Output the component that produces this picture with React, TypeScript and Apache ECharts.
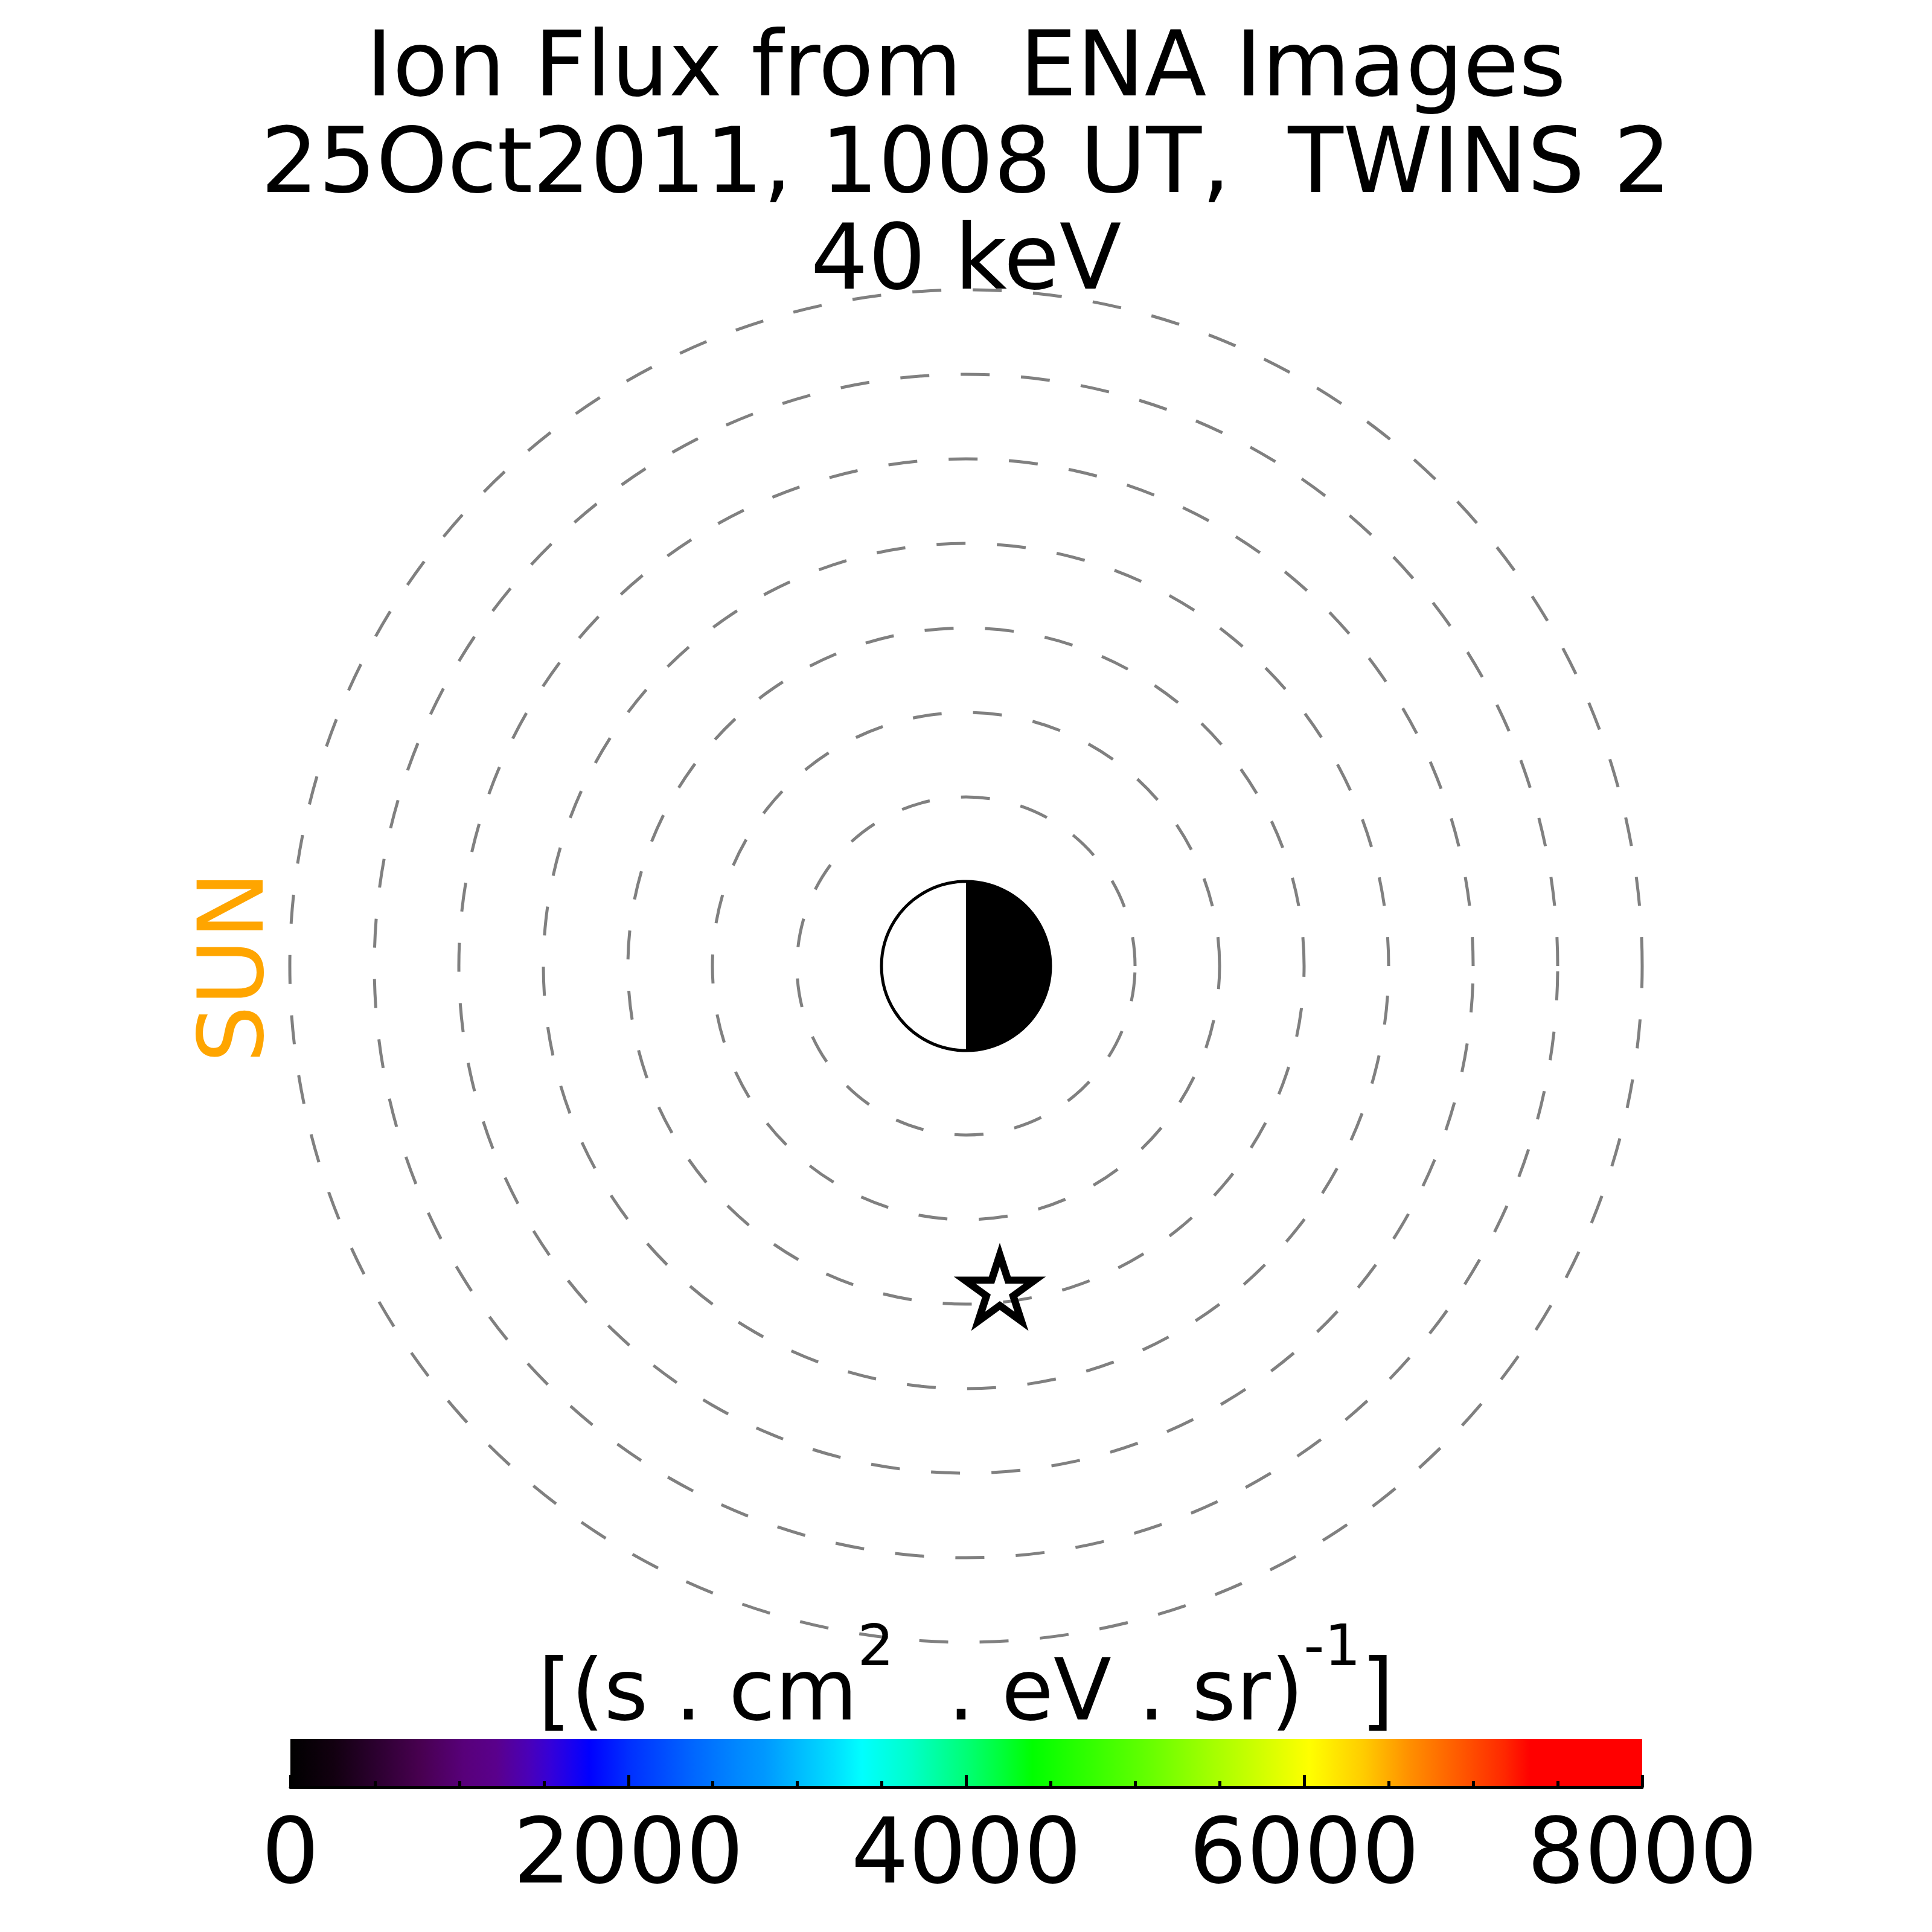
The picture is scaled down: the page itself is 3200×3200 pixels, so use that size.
import React, { useEffect, useRef } from "react";
import * as echarts from "echarts";

// ---------- data ----------
const titleLines = ["Ion Flux from  ENA Images", "25Oct2011, 1008 UT,  TWINS 2", "40 keV"];
const ringRadii = [2, 3, 4, 5, 6, 7, 8]; // Earth radii
const earthRadius = [1];
const satellitePosition = [[0.4, -3.81]];
const sunLabel = "SUN";
const colorbarMin = 0;
const colorbarMax = 8000;
const colorbarInterval = 2000;
const colorbarLabelParts = ["[(s . cm", "2", "  . eV . sr)", "-1", "]"];
const cmapValues = [0, 256, 513, 769, 1026, 1218, 1410, 1538, 1667, 1769, 2010, 2395, 2651, 2805, 3036, 3228, 3382, 3677, 4020, 4212, 4392, 4661, 5046, 5430, 5687, 6030, 6350, 6620, 6927, 7184, 7338, 8000];
const cmapColors = ["#000000", "#120010", "#2c0030", "#480050", "#58007a", "#5a008c", "#4a00b8", "#3500d8", "#1800f0", "#0000ff", "#0030ff", "#0068ff", "#0088ff", "#0098ff", "#00c0ff", "#00e0ff", "#00ffff", "#00ffc8", "#00ff70", "#00ff38", "#00ff00", "#28ff00", "#60ff00", "#a0ff00", "#c8ff00", "#ffff00", "#ffcc00", "#ff9000", "#ff5800", "#ff2800", "#ff0000", "#ff0000"];

const FONT = "DejaVu Sans";

export default function App() {
  const ref = useRef<HTMLDivElement>(null);
  useEffect(() => {
    if (!ref.current) return;
    const chart = echarts.init(ref.current, null, { renderer: "svg" });

    const stops = cmapValues.map((v, i) => ({
      offset: (v - colorbarMin) / (colorbarMax - colorbarMin),
      color: cmapColors[i],
    }));

    const option: any = {
      animation: false,
      backgroundColor: "#ffffff",
      title: [
        {
          text: titleLines.join("\n"),
          left: "center",
          top: 26,
          padding: 0,
          textStyle: { fontFamily: FONT, fontSize: 150, fontWeight: "normal", color: "#000", lineHeight: 160 },
        },
        {
          text:
            "{b|" + colorbarLabelParts[0] + "}{s|" + colorbarLabelParts[1] + "}{b|" + colorbarLabelParts[2] +
            "}{s|" + colorbarLabelParts[3] + "}{b|" + colorbarLabelParts[4] + "}",
          left: "center",
          top: 2677,
          padding: 0,
          textStyle: {
            fontFamily: FONT,
            fontSize: 140,
            fontWeight: "normal",
            color: "#000",
            rich: {
              b: { fontFamily: FONT, fontSize: 140, fontWeight: "normal", color: "#000", lineHeight: 244, verticalAlign: "middle" },
              s: { fontFamily: FONT, fontSize: 95, fontWeight: "normal", color: "#000", height: 95, lineHeight: 95, verticalAlign: "top" },
            },
          },
        },
      ],
      grid: [
        { left: 410, top: 410, width: 2380, height: 2380 },
        { left: 481, top: 2880, width: 2239, height: 80 },
      ],
      xAxis: [
        { gridIndex: 0, type: "value", min: -8.5, max: 8.5, show: false },
        {
          gridIndex: 1,
          type: "value",
          min: colorbarMin,
          max: colorbarMax,
          interval: colorbarInterval,
          z: 10,
          axisLine: { show: true, onZero: false, lineStyle: { color: "#000", width: 5 } },
          axisTick: { show: true, inside: true, length: 20, lineStyle: { color: "#000", width: 5 } },
          minorTick: { show: true, splitNumber: 4, length: 10, lineStyle: { color: "#000", width: 5 } },
          splitLine: { show: false },
          minorSplitLine: { show: false },
          axisLabel: {
            show: true,
            fontFamily: FONT,
            fontSize: 150,
            color: "#000",
            margin: 31,
            showMinLabel: true,
            showMaxLabel: true,
            formatter: (v: number) => String(v),
          },
        },
      ],
      yAxis: [
        { gridIndex: 0, type: "value", min: -8.5, max: 8.5, show: false },
        { gridIndex: 1, type: "value", min: 0, max: 1, show: false },
      ],
      graphic: [
        {
          type: "text",
          x: 383,
          y: 1602,
          rotation: Math.PI / 2,
          style: {
            text: sunLabel,
            fill: "#FFA500",
            font: `150px "${FONT}"`,
            textAlign: "center",
            textVerticalAlign: "middle",
          },
        },
      ],
      series: [
        {
          type: "custom",
          xAxisIndex: 1,
          yAxisIndex: 1,
          silent: true,
          data: [[colorbarMin, 0, colorbarMax, 1]],
          encode: { x: [0, 2], y: [1, 3] },
          renderItem: (params: any, api: any) => {
            const p0 = api.coord([api.value(0), api.value(3)]);
            const p1 = api.coord([api.value(2), api.value(1)]);
            return {
              type: "rect",
              shape: { x: p0[0], y: p0[1], width: p1[0] - p0[0], height: p1[1] - p0[1] },
              style: { fill: new echarts.graphic.LinearGradient(0, 0, 1, 0, stops) },
            };
          },
        },
        {
          type: "custom",
          xAxisIndex: 0,
          yAxisIndex: 0,
          silent: true,
          data: ringRadii.map((r) => [r, 0]),
          encode: { x: 0, y: 1 },
          renderItem: (params: any, api: any) => {
            const c = api.coord([0, 0]);
            const rp = api.size([api.value(0), 0])[0];
            return {
              type: "arc",
              shape: { cx: c[0], cy: c[1], r: rp, startAngle: 0, endAngle: -Math.PI * 2, clockwise: false },
              style: { fill: "none", stroke: "#808080", lineWidth: 5, lineDash: [48, 52] },
            };
          },
        },
        {
          type: "custom",
          xAxisIndex: 0,
          yAxisIndex: 0,
          silent: true,
          data: earthRadius.map((r) => [r, 0]),
          encode: { x: 0, y: 1 },
          renderItem: (params: any, api: any) => {
            const c = api.coord([0, 0]);
            const rp = api.size([api.value(0), 0])[0];
            return {
              type: "group",
              children: [
                { type: "circle", shape: { cx: c[0], cy: c[1], r: rp }, style: { fill: "#ffffff", stroke: "none" } },
                {
                  type: "sector",
                  shape: { cx: c[0], cy: c[1], r0: 0, r: rp, startAngle: -Math.PI / 2, endAngle: Math.PI / 2, clockwise: true },
                  style: { fill: "#000000", stroke: "none" },
                },
                { type: "circle", shape: { cx: c[0], cy: c[1], r: rp }, style: { fill: "none", stroke: "#000", lineWidth: 5 } },
              ],
            };
          },
        },
        {
          type: "scatter",
          xAxisIndex: 0,
          yAxisIndex: 0,
          silent: true,
          z: 5,
          data: satellitePosition,
          symbol:
            "path://M100,0 L122.45,69.1 L195.11,69.1 L136.33,111.8 L158.78,180.9 L100,138.2 L41.22,180.9 L63.67,111.8 L4.89,69.1 L77.55,69.1 Z",
          symbolSize: [116, 110],
          itemStyle: { color: "rgba(0,0,0,0)", opacity: 1, borderColor: "#000000", borderWidth: 12, borderJoin: "miter", borderMiterLimit: 10 },
        },
      ],
    };
    chart.setOption(option);
    return () => chart.dispose();
  }, []);
  return <div ref={ref} style={{ position: "absolute", left: 0, top: 0, width: 3200, height: 3200 }} />;
}
